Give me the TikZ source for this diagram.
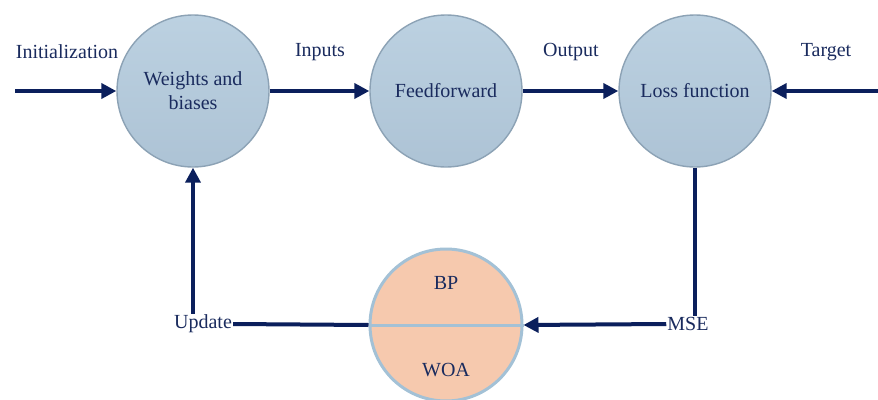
\documentclass[tikz,border=0pt]{standalone}
\usepackage{fontspec}
\setmainfont{Liberation Serif}
\usetikzlibrary{arrows.meta}
\definecolor{navy}{HTML}{0B1F5C}
\definecolor{txt}{HTML}{1A2B5E}
\definecolor{ctop}{HTML}{BCD1E1}
\definecolor{cbot}{HTML}{ADC3D5}
\definecolor{cedge}{HTML}{8CA2B5}
\definecolor{peach}{HTML}{F6C9AE}
\definecolor{pedge}{HTML}{A3C1D6}
\begin{document}
\begin{tikzpicture}[x=1pt,y=-1pt,
  font=\fontsize{20}{24}\selectfont,
  bubble/.style={circle, minimum size=152pt, inner sep=0pt, draw=cedge, line width=1.4pt,
    top color=ctop, bottom color=cbot, text=txt, align=center},
  optbubble/.style={circle, minimum size=152pt, inner sep=0pt, draw=pedge, line width=3pt,
    fill=peach},
  lbl/.style={text=txt, inner sep=1pt},
  flow/.style={draw=navy, line width=4pt, -{Triangle[length=15pt,width=15pt]}},
  plain/.style={draw=navy, line width=4pt}]
\useasboundingbox (0,0) rectangle (878,399);
\fill[white] (0,0) rectangle (878,399);

\node[bubble] (c1) at (193,91) {Weights and\\biases};
\node[bubble] (c2) at (446,91) {Feedforward};
\node[bubble] (c3) at (695,91) {Loss function};
\node[optbubble] (c4) at (446,325) {};
\draw[pedge, line width=3pt] (c4.west) -- (c4.east);
\node[lbl] (bp) at (446,283) {BP};
\node[lbl] (woa) at (446,370) {WOA};

\node[lbl] (init) at (67,52) {Initialization};
\node[lbl] (inp) at (320,52) {Inputs};
\node[lbl] (out) at (571,52) {Output};
\node[lbl] (tgt) at (826,52) {Target};
\node[lbl] (upd) at (203,324) {Update};
\node[lbl] (mse) at (688,324) {MSE};

\coordinate (s1) at (15,91);
\coordinate (s4) at (878,91);

\draw[flow] (s1) -- (c1.west);
\draw[flow] (c1.east) -- (c2.west);
\draw[flow] (c2.east) -- (c3.west);
\draw[flow] (s4) -- (c3.east);
\draw[plain] (c3.south) -- (c3.south |- mse.north);
\draw[flow] (mse.west) -- (c4.east);
\draw[plain] (c4.west) -- (upd.east);
\draw[flow] (c1.south |- upd.north) -- (c1.south);
\end{tikzpicture}
\end{document}
